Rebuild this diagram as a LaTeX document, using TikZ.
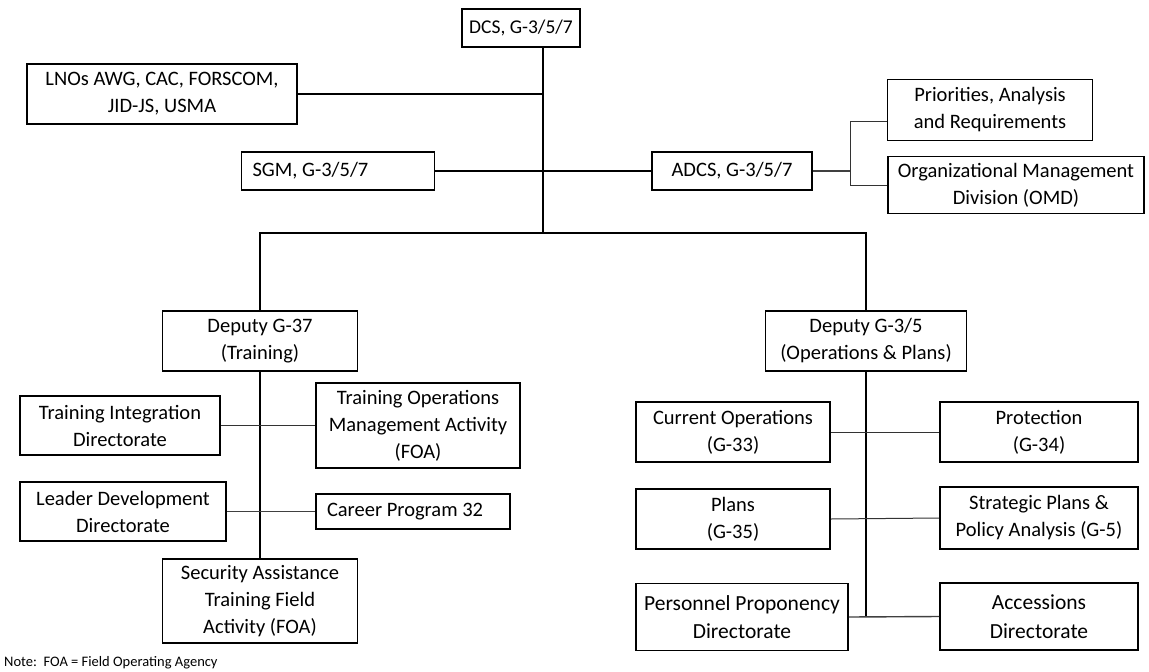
\documentclass[tikz,border=0pt]{standalone}
\usepackage{fontspec}
\setmainfont{Carlito}
\usetikzlibrary{calc}
\begin{document}
\begin{tikzpicture}[x=1pt,y=-1pt,
  box/.style={draw,line width=1.8pt,align=center,inner sep=0pt,font=\fontsize{20.5}{27}\selectfont},
  leftbox/.style={box,inner xsep=11pt},
  bigbox/.style={box,font=\fontsize{21.5}{28.5}\selectfont},
  mainline/.style={line width=2pt},
  thinline/.style={line width=1pt,draw=black!80},
  midline/.style={line width=1.4pt,draw=black!75}]
\useasboundingbox (0,0) rectangle (1149,672);
% top
\node[box,minimum width=118pt,minimum height=38pt,font=\fontsize{19.5}{25}\selectfont] (dcs) at (521,28) {DCS, G-3/5/7};
\node[box,minimum width=270pt,minimum height=60pt] (lno) at (162,94) {LNOs AWG, CAC, FORSCOM,\\JID-JS, USMA};
\node[leftbox,minimum height=38pt] (sgm) at (338,171) {\makebox[171pt][l]{SGM, G-3/5/7}};
\node[box,minimum width=160pt,minimum height=38pt] (adcs) at (732,171) {ADCS, G-3/5/7};
\node[box,minimum width=205pt,minimum height=61pt] (par) at (990,110) {Priorities, Analysis\\and Requirements};
\node[box,minimum width=256pt,minimum height=57pt] (omd) at (1016,185) {Organizational Management\\Division (OMD)};
% deputies
\node[box,minimum width=195pt,minimum height=60pt] (dep37) at (260,341) {Deputy G-37\\(Training)};
\node[box,minimum width=201pt,minimum height=60pt] (dep35) at (866,341) {Deputy G-3/5\\(Operations \& Plans)};
% left branch
\node[box,minimum width=200pt,minimum height=59pt] (tid) at (120,425.5) {Training Integration\\Directorate};
\node[box,minimum width=204pt,minimum height=85pt] (toma) at (418,425.5) {Training Operations\\Management Activity\\(FOA)};
\node[box,minimum width=206pt,minimum height=59pt] (ldd) at (123,511.5) {Leader Development\\Directorate};
\node[leftbox,minimum height=35pt] (cp32) at (413,511.5) {\makebox[172pt][l]{Career Program 32}};
\node[box,minimum width=195pt,minimum height=84pt] (sat) at (260,601) {Security Assistance\\Training Field\\Activity (FOA)};
% right branch
\node[box,minimum width=194pt,minimum height=60pt] (cops) at (733,432) {Current Operations\\(G-33)};
\node[box,minimum width=198pt,minimum height=60pt] (prot) at (1039,432) {Protection\\(G-34)};
\node[box,minimum width=194pt,minimum height=60pt] (plans) at (733,519) {Plans\\(G-35)};
\node[box,minimum width=198pt,minimum height=62pt] (spa) at (1039,518) {Strategic Plans \&\\Policy Analysis (G-5)};
\node[bigbox,minimum width=212pt,minimum height=67pt] (ppd) at (742,617) {Personnel Proponency\\Directorate};
\node[bigbox,minimum width=198pt,minimum height=67pt] (acc) at (1039,616.5) {Accessions\\Directorate};
% note
\node[anchor=west,inner sep=0pt,font=\fontsize{14.5}{17}\selectfont] (note) at (4,663) {Note:\ \ FOA = Field Operating Agency};
% coordinates
\coordinate (trunk) at (543,233);
\coordinate (brk) at (850,0);
% connectors
\draw[mainline] (dcs.south -| trunk) -- (trunk);
\draw[mainline] (lno.east) -- (lno.east -| trunk);
\draw[mainline] (sgm.east) -- (adcs.west);
\draw[midline] (adcs.east) -- (adcs.east -| brk);
\draw[thinline] ($(par.west)+(0,11)$) -- ($(par.west -| brk)+(0,11)$) -- (omd.west -| brk) -- (omd.west);
\draw[mainline] (dep37.north) -- (dep37.north |- trunk) -- (dep35.north |- trunk) -- (dep35.north);
\draw[mainline] (dep37.south) -- (sat.north);
\draw[thinline] (tid.east) -- (toma.west);
\draw[midline] (ldd.east) -- (cp32.west);
\draw[mainline] (dep35.south) -- (dep35.south |- ppd.east);
\draw[thinline] (cops.east) -- (prot.west);
\draw[thinline] (plans.east) -- (spa.west);
\draw[midline] (ppd.east) -- (acc.west);
\end{tikzpicture}
\end{document}
